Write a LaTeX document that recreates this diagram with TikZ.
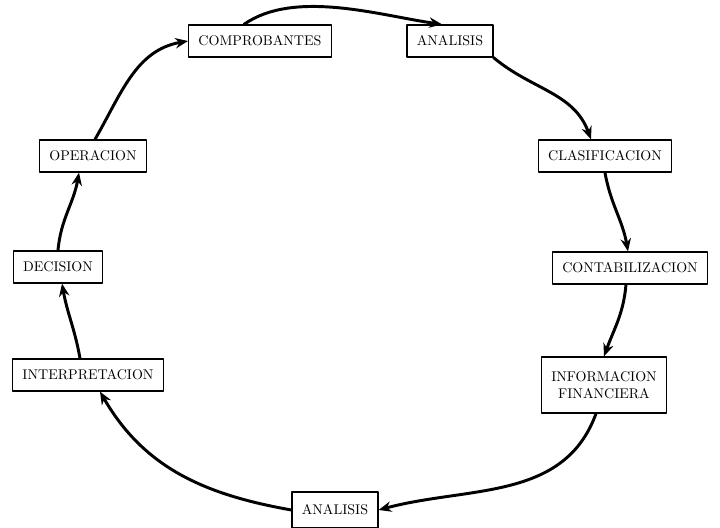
\documentclass[tikz,border=0pt]{standalone}
\usepackage{tikz}
\usetikzlibrary{arrows.meta}
\tikzset{
  cy diagram/.style={font=\rmfamily, line cap=round, line join=round},
  cy box/.style={draw=black, fill=white, line width=0.9pt,
    align=center, inner xsep=7pt, minimum height=0.8cm},
  cy arrow/.style={-{Stealth[length=3.2mm,width=2.6mm]}, draw=black, line width=2.1pt}
}
\begin{document}
\begin{tikzpicture}[cy diagram]
\useasboundingbox (0,0) rectangle (18,13.2);
\node[cy box] (comp) at (6.5,12.175) {COMPROBANTES};
\node[cy box] (anatop) at (11.25,12.175) {ANALISIS};
\node[cy box] (clas) at (15.125,9.3) {CLASIFICACION};
\node[cy box] (cont) at (15.75,6.5) {CONTABILIZACION};
\node[cy box, minimum height=1.4cm] (info) at (15.1,3.575) {INFORMACION\\FINANCIERA};
\node[cy box, minimum height=0.9cm] (anabot) at (8.375,0.45) {ANALISIS};
\node[cy box] (interp) at (2.2,3.825) {INTERPRETACION};
\node[cy box] (dec) at (1.45,6.525) {DECISION};
\node[cy box] (oper) at (2.325,9.3) {OPERACION};
% the cycle
\draw[cy arrow] ([xshift=-0.4cm]comp.north) to[out=35,in=172,looseness=0.8] ([xshift=-0.2cm]anatop.north);
\draw[cy arrow] (anatop.south east) to[out=-40,in=110] ([xshift=-0.35cm]clas.north);
\draw[cy arrow] (clas.south) to[out=-80,in=100] ([xshift=-0.05cm]cont.north);
\draw[cy arrow] ([xshift=-0.1cm]cont.south) to[out=-95,in=70] (info.north);
\draw[cy arrow] ([xshift=-0.2cm]info.south) to[out=-110,in=15] (anabot.east);
\draw[cy arrow] (anabot.west) to[out=170,in=-60] ([xshift=0.3cm]interp.south);
\draw[cy arrow] ([xshift=-0.2cm]interp.north) to[out=100,in=-80] ([xshift=0.1cm]dec.south);
\draw[cy arrow] (dec.north) to[out=85,in=-100] ([xshift=-0.35cm]oper.south);
\draw[cy arrow] ([xshift=0.05cm]oper.north) to[out=60,in=190] (comp.west);
\end{tikzpicture}
\end{document}
